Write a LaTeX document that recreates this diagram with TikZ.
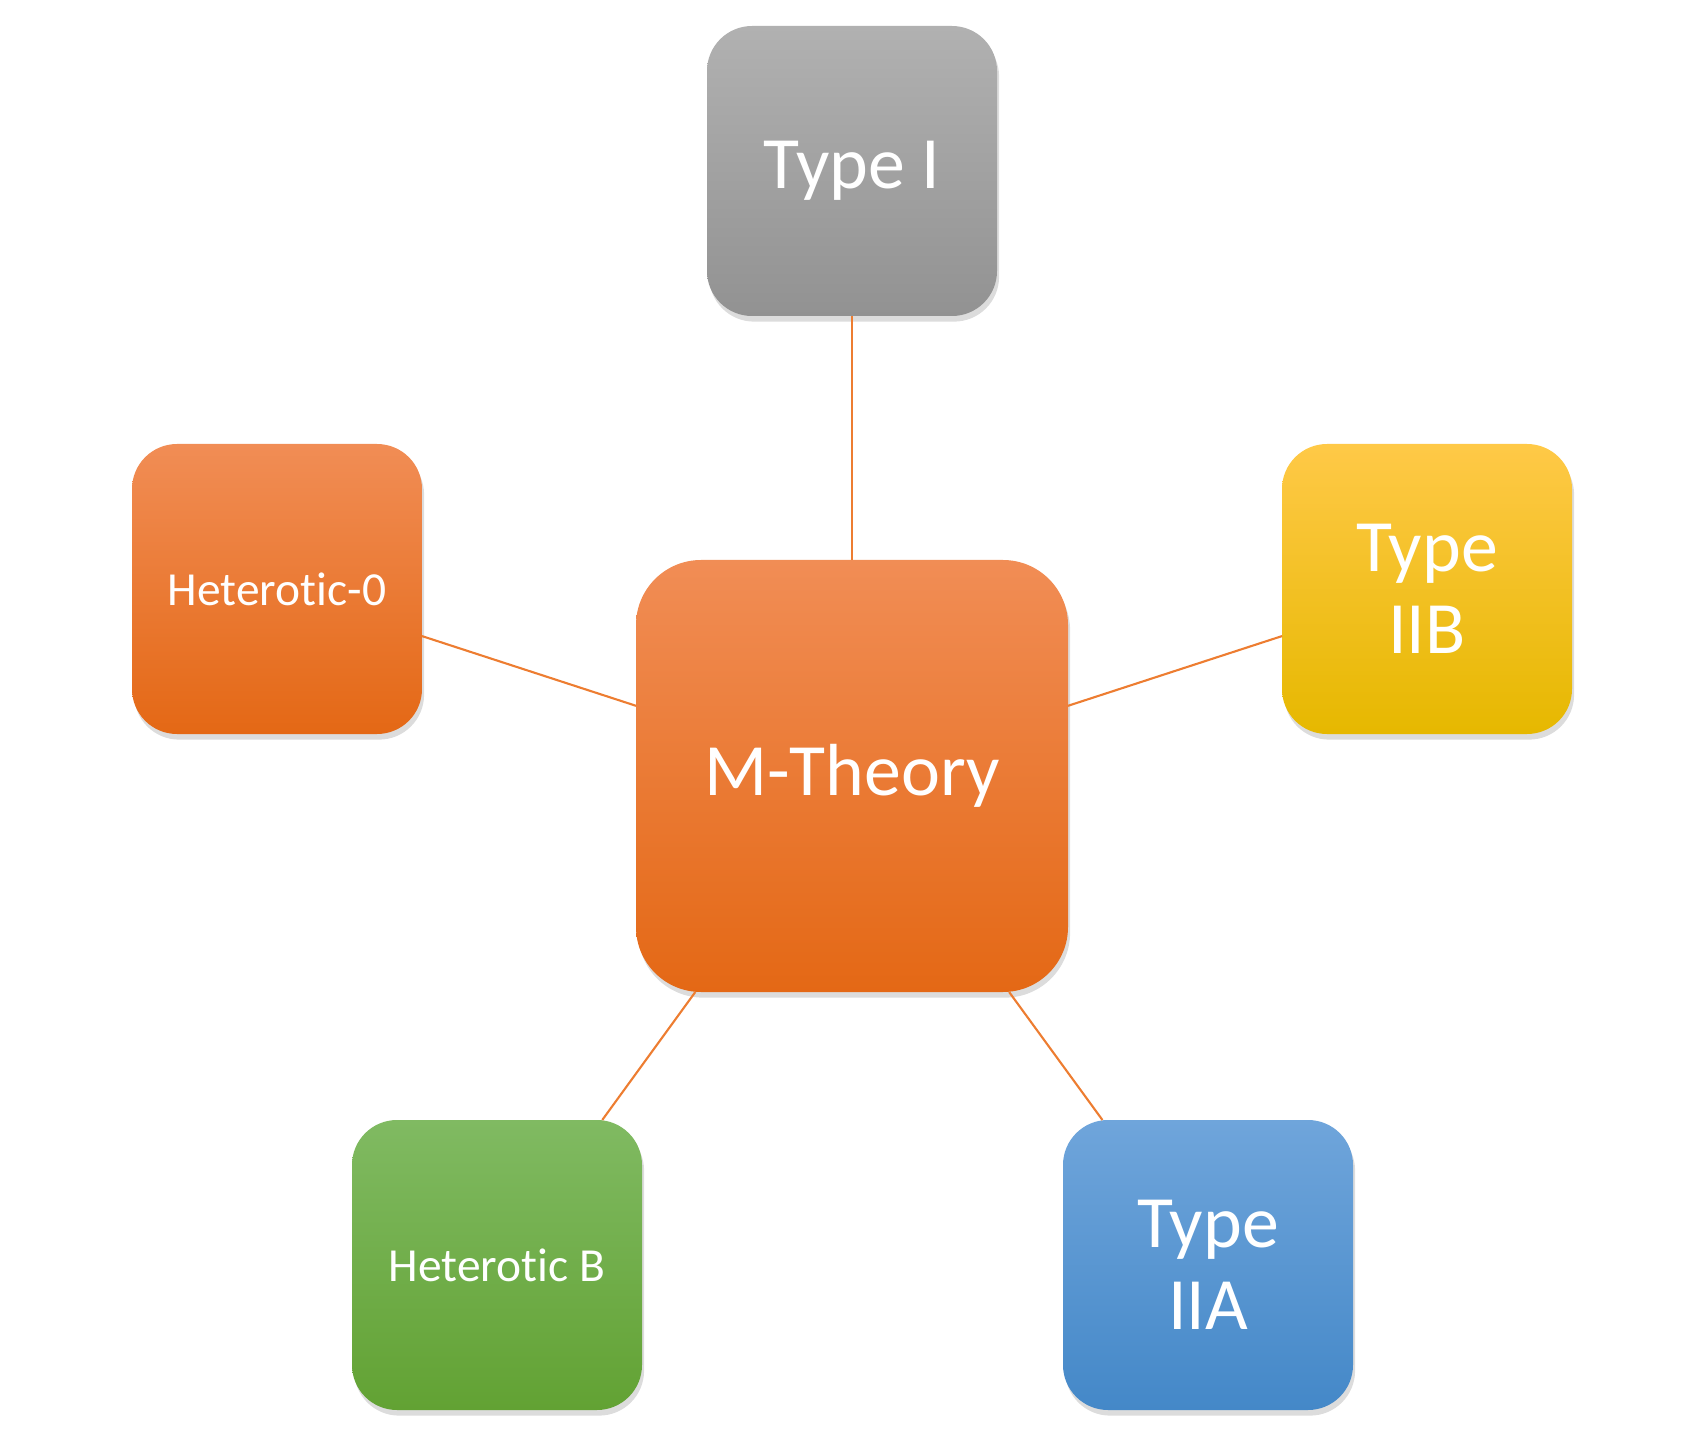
\documentclass[tikz,border=0pt]{standalone}
\usepackage{fontspec}
\setmainfont{Carlito}[Ligatures=NoCommon]
\usetikzlibrary{shadows}

\definecolor{linkorange}{HTML}{ED7D31}
\definecolor{orangetop}{HTML}{F18D55}
\definecolor{orangemid}{HTML}{F47B2A}
\definecolor{orangebot}{HTML}{E46815}
\definecolor{greytop}{HTML}{B1B1B1}
\definecolor{greybot}{HTML}{929292}
\definecolor{goldtop}{HTML}{FFC947}
\definecolor{goldmid}{HTML}{FFC400}
\definecolor{goldbot}{HTML}{E6B800}
\definecolor{greentop}{HTML}{80BA62}
\definecolor{greenmid}{HTML}{70AE45}
\definecolor{greenbot}{HTML}{62A233}
\definecolor{bluetop}{HTML}{6FA5DB}
\definecolor{bluemid}{HTML}{5A9AD8}
\definecolor{bluebot}{HTML}{4488C8}

\tikzset{
    tile/.style={rectangle, rounded corners=0.45cm, minimum width=2.9cm,
        minimum height=2.9cm, inner sep=0pt, outer sep=0pt, text=white,
        align=center, font=\fontsize{21}{23.2}\selectfont,
        drop shadow={opacity=0.28, shadow xshift=0.6pt, shadow yshift=-1.6pt}},
    bigtile/.style={tile, rounded corners=0.65cm, minimum width=4.32cm,
        minimum height=4.32cm},
    smalltext/.style={font=\fontsize{13.5}{16}\selectfont},
    orangefill/.style={top color=orangetop, middle color=orangemid, bottom color=orangebot},
    greyfill/.style={top color=greytop, bottom color=greybot},
    goldfill/.style={top color=goldtop, middle color=goldmid, bottom color=goldbot},
    greenfill/.style={top color=greentop, middle color=greenmid, bottom color=greenbot},
    bluefill/.style={top color=bluetop, middle color=bluemid, bottom color=bluebot},
    link/.style={draw=linkorange, line width=0.6pt}
}

\begin{document}
\begin{tikzpicture}
        \useasboundingbox (0,0) rectangle (16.82,-14.32);
        \node[bigtile,orangefill] (mtheory) at (8.52,-7.76) {M-Theory};
        \node[tile,greyfill] (typeI) at (8.52,-1.71) {Type I};
        \node[tile,orangefill,smalltext] (hetzero) at (2.77,-5.89) {Heterotic-0};
        \node[tile,goldfill] (typeIIB) at (14.27,-5.89) {Type\\IIB};
        \node[tile,greenfill,smalltext] (hetB) at (4.97,-12.65) {Heterotic B};
        \node[tile,bluefill] (typeIIA) at (12.08,-12.65) {Type\\IIA};
        \foreach \n in {typeI,hetzero,typeIIB,hetB,typeIIA}
            \draw[link] (mtheory) -- (\n);
\end{tikzpicture}
\end{document}
